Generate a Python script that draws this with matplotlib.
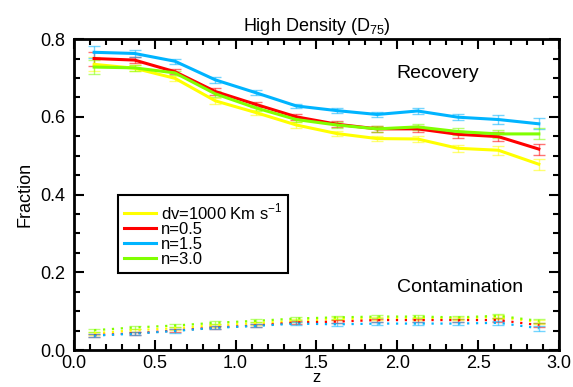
import numpy as np
import matplotlib.pyplot as plt
from matplotlib.ticker import MultipleLocator
from matplotlib.colors import to_rgba

plt.rcParams['font.family'] = ['Liberation Sans', 'DejaVu Sans']
plt.rcParams['mathtext.fontset'] = 'custom'
plt.rcParams['mathtext.rm'] = 'Liberation Sans'

# redshift bin centres
z = [0.125, 0.375, 0.625, 0.875, 1.125, 1.375, 1.625, 1.875, 2.125, 2.375, 2.625, 2.875]

labels = [r'dv=1000 Km s$^{-1}$', 'n=0.5', 'n=1.5', 'n=3.0']
colors = ['#ffff00', '#ff0000', '#00b4ff', '#80ff00']

# recovery fractions
rec_dv = [0.735, 0.725, 0.699, 0.641, 0.611, 0.579, 0.557, 0.544, 0.543, 0.519, 0.514, 0.478]
rec_n05 = [0.750, 0.746, 0.716, 0.665, 0.632, 0.600, 0.581, 0.569, 0.569, 0.555, 0.549, 0.517]
rec_n15 = [0.766, 0.763, 0.743, 0.695, 0.662, 0.628, 0.616, 0.606, 0.615, 0.599, 0.593, 0.582]
rec_n30 = [0.728, 0.726, 0.713, 0.659, 0.623, 0.593, 0.579, 0.569, 0.574, 0.562, 0.556, 0.556]

rec_err_dv = [0.018, 0.008, 0.006, 0.008, 0.007, 0.007, 0.007, 0.007, 0.007, 0.009, 0.011, 0.014]
rec_err_n05 = [0.018, 0.008, 0.006, 0.008, 0.007, 0.007, 0.007, 0.007, 0.007, 0.009, 0.011, 0.014]
rec_err_n15 = [0.015, 0.008, 0.006, 0.007, 0.006, 0.006, 0.006, 0.007, 0.007, 0.008, 0.011, 0.014]
rec_err_n30 = [0.017, 0.008, 0.006, 0.008, 0.007, 0.007, 0.007, 0.007, 0.007, 0.009, 0.011, 0.014]

# contamination fractions
con_dv = [0.043, 0.051, 0.056, 0.064, 0.069, 0.075, 0.080, 0.081, 0.082, 0.081, 0.085, 0.072]
con_n05 = [0.038, 0.043, 0.050, 0.058, 0.063, 0.071, 0.073, 0.077, 0.077, 0.077, 0.077, 0.064]
con_n15 = [0.037, 0.042, 0.049, 0.057, 0.062, 0.068, 0.066, 0.068, 0.068, 0.068, 0.070, 0.056]
con_n30 = [0.051, 0.058, 0.063, 0.070, 0.075, 0.081, 0.084, 0.086, 0.086, 0.084, 0.088, 0.075]
con_err = [0.004, 0.004, 0.004, 0.004, 0.004, 0.004, 0.004, 0.004, 0.004, 0.004, 0.005, 0.006]

recovery = [rec_dv, rec_n05, rec_n15, rec_n30]
rec_errs = [rec_err_dv, rec_err_n05, rec_err_n15, rec_err_n30]
contamination = [con_dv, con_n05, con_n15, con_n30]

fig = plt.figure(figsize=(5.73, 3.87), dpi=100)
ax = fig.add_axes([0.129, 0.0956, 0.8466, 0.8034])

handles = []
for rec, err, con, col, lab in zip(recovery, rec_errs, contamination, colors, labels):
    light = to_rgba(col, 0.55)
    ax.errorbar(z, rec, yerr=err, fmt='none', ecolor=light, elinewidth=1.0,
                capsize=4, capthick=1.0, zorder=2)
    h, = ax.plot(z, rec, color=col, lw=2.2, label=lab, zorder=3)
    handles.append(h)
    ax.errorbar(z, con, yerr=con_err, fmt='none', ecolor=light, elinewidth=1.0,
                capsize=4, capthick=1.0, zorder=2)
    ax.plot(z, con, color=col, lw=1.6, ls=(0, (1, 3)), zorder=3)

ax.set_xlim(0, 3.0)
ax.set_ylim(0, 0.8)
ax.xaxis.set_major_locator(MultipleLocator(0.5))
ax.xaxis.set_minor_locator(MultipleLocator(0.1))
ax.yaxis.set_major_locator(MultipleLocator(0.2))
ax.yaxis.set_minor_locator(MultipleLocator(0.05))
ax.xaxis.set_major_formatter(plt.FormatStrFormatter('%.1f'))
ax.yaxis.set_major_formatter(plt.FormatStrFormatter('%.1f'))
ax.tick_params(which='both', direction='in', top=True, right=True, width=1.5, labelsize=13)
ax.tick_params(which='major', length=7)
ax.tick_params(which='minor', length=4)
ax.tick_params(axis='y', pad=6)
for sp in ax.spines.values():
    sp.set_linewidth(2)

ax.set_xlabel('z', fontsize=12, labelpad=-1)
ax.set_ylabel('Fraction', fontsize=13, labelpad=5)
ax.set_title(r'High Density (D$_{75}$)', fontsize=13, pad=6)

ax.text(2.25, 0.712, 'Recovery', fontsize=14, ha='center', va='center')
ax.text(2.39, 0.162, 'Contamination', fontsize=14, ha='center', va='center')

leg = ax.legend(handles=handles, loc='upper left', bbox_to_anchor=(0.091, 0.497),
                fontsize=12, frameon=True, fancybox=False, handlelength=1.9,
                handletextpad=0.3, labelspacing=0.0, borderpad=0.35,
                borderaxespad=0)
leg.get_frame().set_edgecolor('black')
leg.get_frame().set_linewidth(1.5)
leg.get_frame().set_alpha(1)

fig.savefig('out.png', dpi=100)
